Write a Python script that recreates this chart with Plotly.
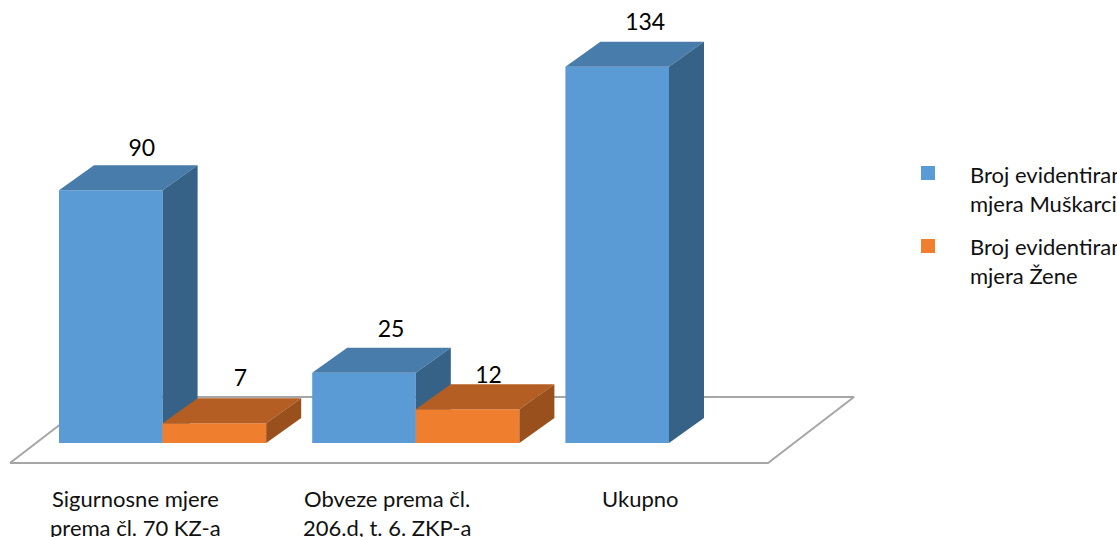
import plotly.graph_objects as go

# --- data ---
categories = ["Sigurnosne mjere prema čl. 70 KZ-a", "Obveze prema čl. 206.d, t. 6. ZKP-a", "Ukupno"]
cat_line1 = ["Sigurnosne mjere", "Obveze prema čl.", "Ukupno"]
cat_line2 = ["prema čl. 70 KZ-a", "206.d, t. 6. ZKP-a", ""]
men_name = "Broj evidentiranih mjera Muškarci"
women_name = "Broj evidentiranih mjera Žene"
men_values = [90, 25, 134]
women_values = [7, 12, None]

# --- geometry / style ---
W, H = 1117, 537
FONT = "Lato"
FS = 22
PX_PER_CAT = 253.2
PX_PER_UNIT = 2.807
X0_PX = 162.6        # px of category index 0
Y0_PX = 443.0        # px of value 0
BAR_PX = 103.6
DX_PX, DY_PX = 35.0, 25.0

dx = DX_PX / PX_PER_CAT
dy = DY_PX / PX_PER_UNIT
bw = BAR_PX / PX_PER_CAT
xrange_ = [-X0_PX / PX_PER_CAT, (W - X0_PX) / PX_PER_CAT]
yrange_ = [-(H - Y0_PX) / PX_PER_UNIT, Y0_PX / PX_PER_UNIT]

fig = go.Figure()


def poly(px, py, color, xa="x", ya="y", line="rgba(0,0,0,0)", lw=0):
    fig.add_trace(go.Scatter(x=px, y=py, xaxis=xa, yaxis=ya, mode="lines", fill="toself", fillcolor=color,
                             line=dict(color=line, width=lw), hoverinfo="skip", showlegend=False))


# floor (bottom layer)
fx = lambda p: (p - X0_PX) / PX_PER_CAT
fy = lambda p: (Y0_PX - p) / PX_PER_UNIT
poly([fx(10), fx(768), fx(854), fx(96), fx(10)],
     [fy(463), fy(463), fy(397), fy(397), fy(463)], "white", line="#A6A6A6", lw=2)


def bar3d(left, v, front, top, side, xa, ya):
    l, r = left, left + bw
    fig.add_trace(go.Bar(x=[l + bw / 2], y=[v], width=bw, xaxis=xa, yaxis=ya,
                         marker=dict(color=front, line=dict(width=0)), showlegend=False, hoverinfo="skip"))
    poly([l, r, r + dx, l + dx, l], [v, v, v + dy, v + dy, v], top, xa, ya)
    poly([r, r + dx, r + dx, r, r], [0, dy, v + dy, v, 0], side, xa, ya)


for i, v in enumerate(men_values):
    bar3d(i - bw, v, "#5B9BD5", "#487CAA", "#376287", "x2", "y2")
for i, w in enumerate(women_values):
    if w is not None:
        bar3d(i, w, "#F07E2F", "#B55E23", "#99501C", "x3", "y3")

# value labels
lab_dx = [31, 26, 27, 21, 28]
lab_dy = [40, 43, 42, 32, 43]
seq = [(0 - bw / 2, men_values[0]), (0 + bw / 2, women_values[0]),
       (1 - bw / 2, men_values[1]), (1 + bw / 2, women_values[1]),
       (2 - bw / 2, men_values[2])]
fig.add_trace(go.Scatter(
    x=[s[0] + d / PX_PER_CAT for s, d in zip(seq, lab_dx)],
    y=[s[1] + d / PX_PER_UNIT for s, d in zip(seq, lab_dy)],
    xaxis="x3", yaxis="y3",
    text=[str(s[1]) for s in seq], mode="text", textposition="middle center",
    textfont=dict(family=FONT, size=23, color="#000000"), hoverinfo="skip", showlegend=False))

annotations = []


def label(xpx, ypx, text, anchor="center", size=FS):
    annotations.append(dict(x=xpx / W, y=1 - ypx / H, xref="paper", yref="paper", text=text, showarrow=False,
                            xanchor=anchor, yanchor="middle", font=dict(family=FONT, size=size, color="#111111")))


for cx, a, b in zip([135, 387, 640], cat_line1, cat_line2):
    label(cx, 498, a)
    if b:
        label(cx, 527, b)

label(968, 174, men_name[:18], "left")
label(968, 203, men_name[19:], "left")
label(968, 246, women_name[:18], "left")
label(968, 275, women_name[19:], "left")

shapes = [
    dict(type="rect", xref="paper", yref="paper", x0=921 / W, x1=935 / W, y0=1 - 180 / H, y1=1 - 166 / H,
         fillcolor="#5B9BD5", line=dict(width=0)),
    dict(type="rect", xref="paper", yref="paper", x0=921 / W, x1=935 / W, y0=1 - 253 / H, y1=1 - 239 / H,
         fillcolor="#F07E2F", line=dict(width=0)),
]

ax = dict(range=xrange_, visible=False, fixedrange=True)
ay = dict(range=yrange_, visible=False, fixedrange=True)
fig.update_layout(
    width=W, height=H, margin=dict(l=0, r=0, t=0, b=0), autosize=False,
    paper_bgcolor="white", plot_bgcolor="rgba(0,0,0,0)", barmode="overlay", showlegend=False,
    xaxis=ax, yaxis=ay,
    xaxis2=dict(ax, overlaying="x"), yaxis2=dict(ay, overlaying="y"),
    xaxis3=dict(ax, overlaying="x"), yaxis3=dict(ay, overlaying="y"),
    annotations=annotations, shapes=shapes,
)
fig.write_html("out.html", config={"displayModeBar": False},
               post_script="document.body.style.margin='0';")
